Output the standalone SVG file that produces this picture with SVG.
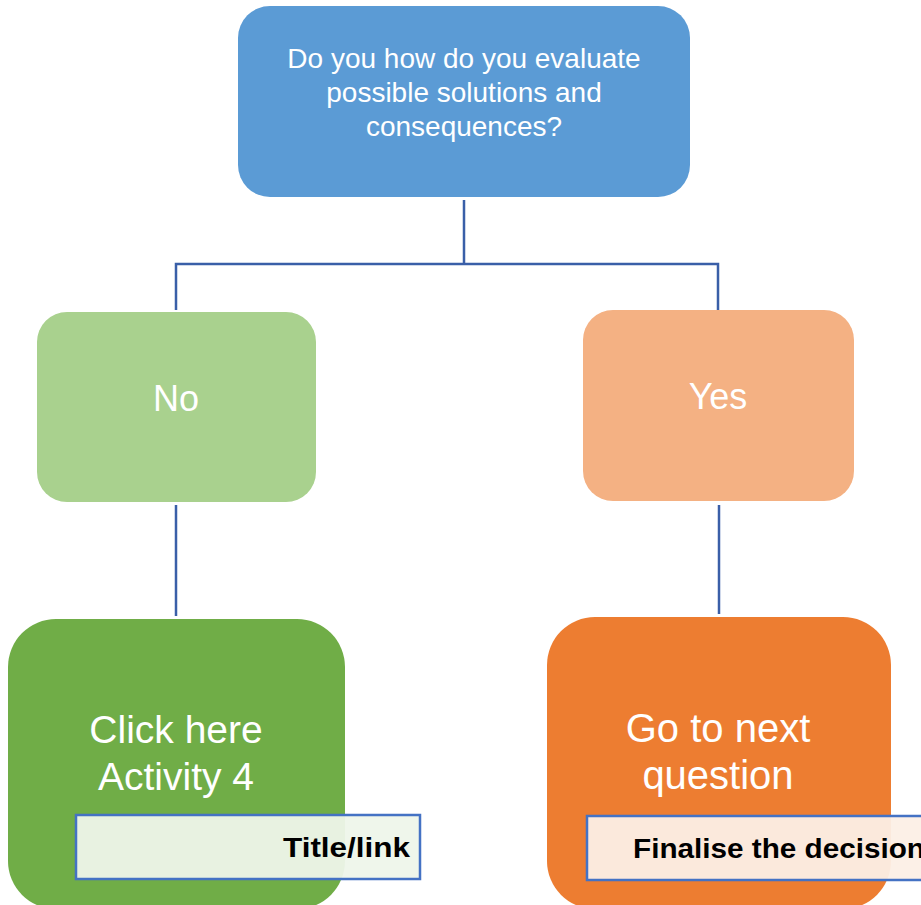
<svg xmlns="http://www.w3.org/2000/svg" width="921" height="905" viewBox="0 0 921 905">
<style>
.t{font-family:"Liberation Sans",Arial,sans-serif;fill:#fff;text-anchor:middle}
.b{font-family:"Liberation Sans",Arial,sans-serif;font-weight:bold;fill:#000}
.c{fill:none;stroke:#3A5FA8;stroke-width:2.5}
.lb{stroke:#4472C4;stroke-width:2.5}
</style>
<rect width="921" height="905" fill="#fff"/>
<g id="connectors">
<path class="c" d="M464 200 V264 M176 310 V264 H718 V310"/>
<path class="c" d="M176 505 V616"/>
<path class="c" d="M719 505 V614"/>
</g>
<g id="question">
<rect x="238" y="6" width="452" height="191" rx="32" fill="#5B9BD5"/>
<text class="t" font-size="28"><tspan x="464" y="68">Do you how do you evaluate</tspan><tspan x="464" y="102">possible solutions and</tspan><tspan x="464" y="136">consequences?</tspan></text>
</g>
<g id="no">
<rect x="37" y="312" width="279" height="190" rx="30" fill="#A9D18E"/>
<text class="t" x="176" y="411" font-size="36">No</text>
</g>
<g id="yes">
<rect x="583" y="310" width="271" height="191" rx="30" fill="#F4B183"/>
<text class="t" x="718" y="409" font-size="36">Yes</text>
</g>
<g id="activity">
<rect x="8" y="619" width="337" height="290" rx="48" fill="#70AD47"/>
<text class="t" font-size="39"><tspan x="176" y="743">Click here</tspan><tspan x="176" y="790">Activity 4</tspan></text>
</g>
<g id="next">
<rect x="547" y="617" width="344" height="292" rx="48" fill="#ED7D31"/>
<text class="t" font-size="40"><tspan x="718" y="742">Go to next</tspan><tspan x="718" y="789">question</tspan></text>
</g>
<g id="title-link">
<rect class="lb" x="76" y="815" width="344" height="64" fill="#EEF5EA" fill-opacity="0.95"/>
<text class="b" x="283" y="857" font-size="28" textLength="127" lengthAdjust="spacingAndGlyphs">Title/link</text>
</g>
<g id="finalise">
<rect class="lb" x="587" y="816" width="340" height="64" fill="#FCEFE6" fill-opacity="0.95"/>
<text class="b" x="633" y="858" font-size="28" textLength="292" lengthAdjust="spacingAndGlyphs">Finalise the decision</text>
</g>
</svg>
